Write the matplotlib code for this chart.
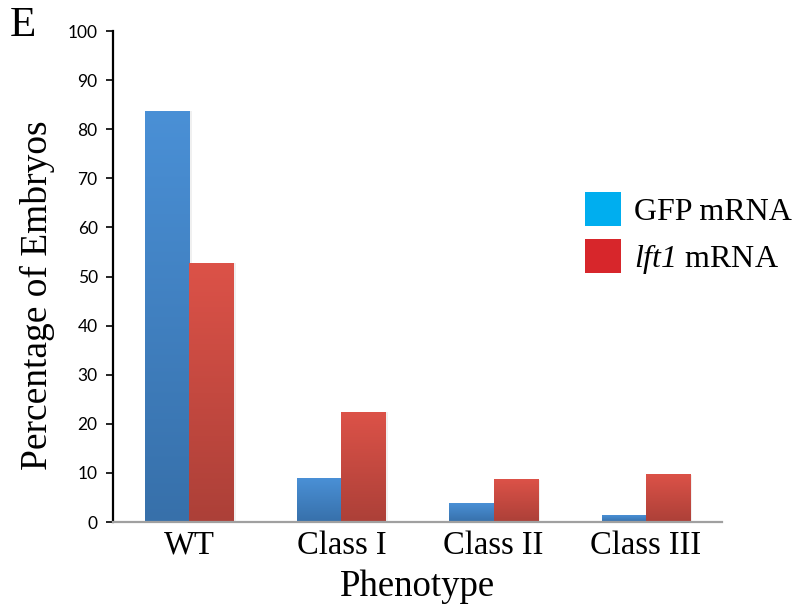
import numpy as np
import matplotlib
matplotlib.use('Agg')
import matplotlib.pyplot as plt
from matplotlib.colors import LinearSegmentedColormap
from matplotlib.patches import Patch

categories = ['WT', 'Class I', 'Class II', 'Class III']
gfp = [83.7, 8.8, 3.7, 1.3]
lft1 = [52.7, 22.4, 8.6, 9.6]
series_names = ['GFP mRNA', '$lft1$ mRNA']
yticks = list(range(0, 101, 10))

serif = ['Liberation Serif', 'DejaVu Serif']
sans = ['Lato', 'DejaVu Sans']

# only the legend uses mathtext: make all of it italic Times-like
plt.rcParams['mathtext.fontset'] = 'custom'
plt.rcParams['mathtext.rm'] = 'Liberation Serif:italic'
plt.rcParams['mathtext.it'] = 'Liberation Serif:italic'

blue_grad = LinearSegmentedColormap.from_list('b', ['#3770aa', '#4a90d6'])
red_grad = LinearSegmentedColormap.from_list('r', ['#ac4038', '#dc5248'])

fig = plt.figure(figsize=(7.99, 6.13), dpi=100)
ax = fig.add_axes([0.1414, 0.1484, 0.7622, 0.801])

x = np.arange(len(categories))
w = 0.29
bars_g = ax.bar(x - w / 2, gfp, w, color='none', edgecolor='none')
bars_r = ax.bar(x + w / 2, lft1, w, color='none', edgecolor='none')

grad = np.linspace(0, 1, 256).reshape(-1, 1)
for bars, cmap in [(bars_g, blue_grad), (bars_r, red_grad)]:
    for b in bars:
        x0, h, bw = b.get_x(), b.get_height(), b.get_width()
        # faint shadow to the right
        ax.bar(x0 + bw + 0.004, h, 0.012, bottom=0, align='edge',
               color='#000000', alpha=0.06, zorder=1)
        ax.imshow(grad, extent=[x0, x0 + bw, 0, h], origin='lower',
                  aspect='auto', cmap=cmap, zorder=2)

ax.set_xlim(-0.5, 3.5)
ax.set_ylim(0, 100)
ax.set_yticks(yticks)
ax.set_yticklabels([str(t) for t in yticks], fontfamily=sans, fontsize=12.5)
ax.set_xticks(x)
ax.set_xticklabels(categories, fontfamily=serif, fontsize=23.5)
ax.tick_params(axis='x', length=0, pad=6)
ax.tick_params(axis='y', length=5, width=1.2, direction='out', pad=6)

for s in ['top', 'right']:
    ax.spines[s].set_visible(False)
ax.spines['left'].set_color('black')
ax.spines['left'].set_linewidth(1.6)
ax.spines['bottom'].set_color('#a0a0a0')
ax.spines['bottom'].set_linewidth(1.6)

ax.set_ylabel('Percentage of Embryos', fontfamily=serif, fontsize=27)
ax.yaxis.set_label_coords(-0.095, 0.462)
ax.set_xlabel('Phenotype', fontfamily=serif, fontsize=26.5, labelpad=6)

handles = [Patch(facecolor='#00aeef'), Patch(facecolor='#d7262b')]
fig.legend(handles, series_names, loc='upper left',
           bbox_to_anchor=(585 / 799, 1 - 192 / 613), frameon=False,
           prop={'family': serif, 'size': 23}, handlelength=1.13,
           handleheight=1.24, labelspacing=0.4, handletextpad=0.4,
           borderpad=0, borderaxespad=0)

fig.text(0.012, 0.99, 'E', fontfamily=serif, fontsize=31, va='top', ha='left')

fig.savefig('out.png', dpi=100)
